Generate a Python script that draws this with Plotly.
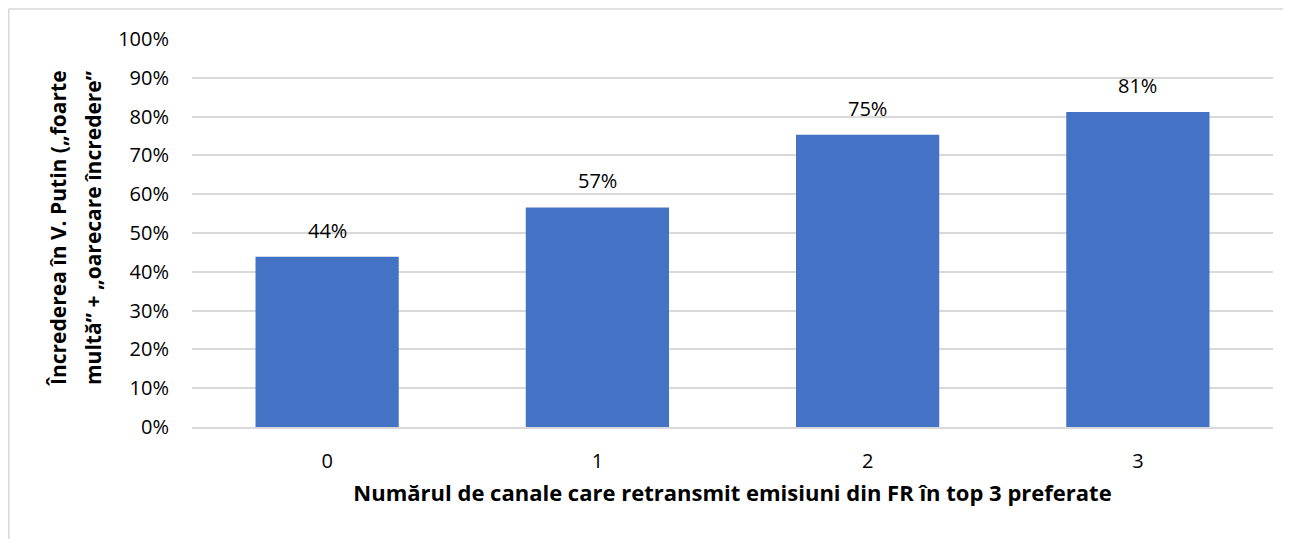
import plotly.graph_objects as go

categories = ["0", "1", "2", "3"]
values = [43.9, 56.6, 75.3, 81.2]
labels = ["44%", "57%", "75%", "81%"]
y_ticks = [0, 10, 20, 30, 40, 50, 60, 70, 80, 90, 100]
y_tick_text = [f"{v}%" for v in y_ticks]

x_title = "Numărul de canale care retransmit emisiuni din FR în top 3 preferate"
y_title_lines = ["Încrederea în V. Putin („foarte", "multă” + „oarecare încredere”"]

FONT = "Open Sans"
# page is rendered with an 8px body offset
W, H = 1275, 531
L, R, T, B = 184, 10, 31, 112
pw = W - L - R
ph = H - T - B

fig = go.Figure()
fig.add_trace(go.Bar(
    x=categories, y=values,
    marker=dict(color="#4472C4", line=dict(width=0)),
    width=0.53,
    hoverinfo="skip",
))

for c, v, t in zip(categories, values, labels):
    fig.add_annotation(x=c, y=v, text=t, showarrow=False, yanchor="bottom",
                       yshift=11, font=dict(family=FONT, size=20, color="#000000"))

bx = (0.75 - L) / pw
by_top = ((H - B) - 1) / ph
by_bot = -(H + 20 - (H - B)) / ph
fig.add_shape(type="line", xref="paper", yref="paper", x0=bx, x1=(W + 20 - L) / pw,
              y0=by_top, y1=by_top, line=dict(color="#D9D9D9", width=1.5))
fig.add_shape(type="line", xref="paper", yref="paper", x0=bx, x1=bx,
              y0=by_bot, y1=by_top, line=dict(color="#D9D9D9", width=1.5))

for xpix, line in zip([50, 85], y_title_lines):
    fig.add_annotation(xref="paper", yref="paper", x=(xpix - L) / pw, y=(419 - 220) / ph,
                       xanchor="center", yanchor="middle",
                       text="<b>" + line + "</b>", textangle=-90, showarrow=False,
                       font=dict(family=FONT, size=21, color="#000000"))

fig.update_layout(
    width=W, height=H,
    margin=dict(l=L, r=R, t=T, b=B),
    paper_bgcolor="white", plot_bgcolor="white",
    showlegend=False,
    font=dict(family=FONT, size=20, color="#000000"),
    xaxis=dict(
        type="category", showgrid=False, showline=True, linecolor="#D9D9D9", linewidth=1.5,
        ticks="", ticklabelstandoff=15,
        tickfont=dict(family=FONT, size=20),
        title=dict(text="<b>" + x_title + "</b>", font=dict(family=FONT, size=22), standoff=13),
    ),
    yaxis=dict(
        range=[0, 100], tickvals=y_ticks, ticktext=y_tick_text,
        showgrid=True, gridcolor="#D9D9D9", gridwidth=1.5,
        zeroline=False, showline=False, ticks="", ticklabelstandoff=22,
        tickfont=dict(family=FONT, size=20),
    ),
)

fig.write_html("out.html")
